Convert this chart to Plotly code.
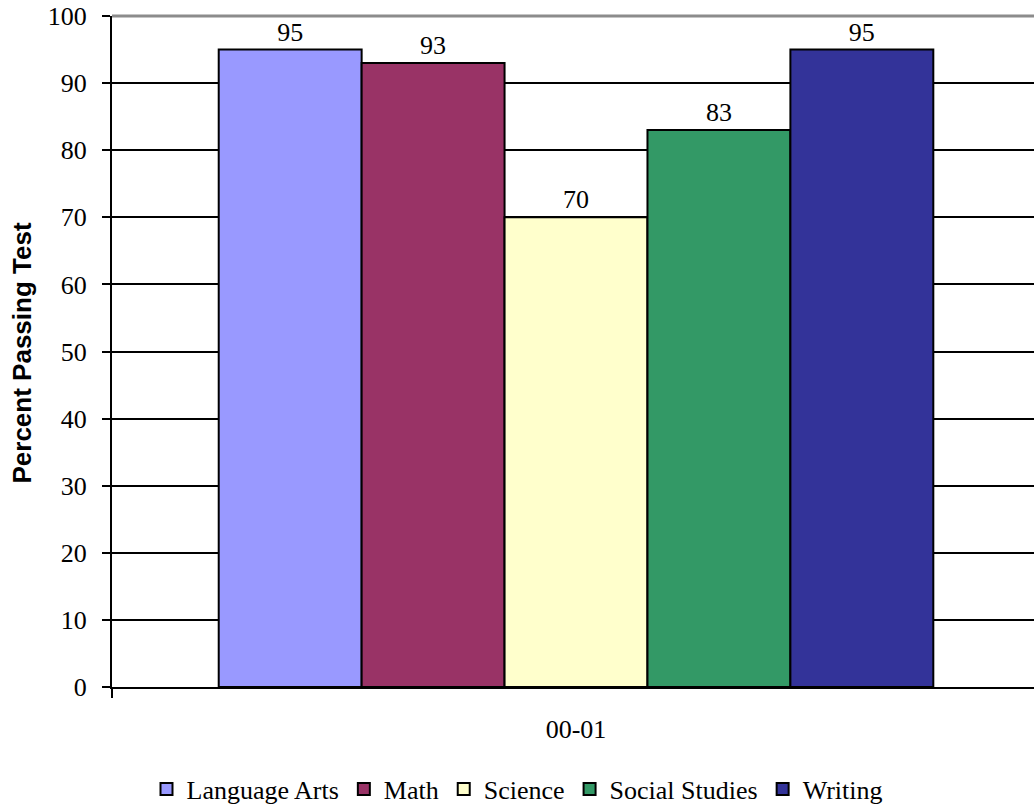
import plotly.graph_objects as go

categories = ["00-01"]
subjects = ["Language Arts", "Math", "Science", "Social Studies", "Writing"]
values = [95, 93, 70, 83, 95]
colors = ["#9999FF", "#993366", "#FFFFCC", "#339966", "#333399"]
y_ticks = [0, 10, 20, 30, 40, 50, 60, 70, 80, 90, 100]

SERIF = "Times New Roman"

fig = go.Figure()
for name, val, col in zip(subjects, values, colors):
    fig.add_trace(go.Bar(
        name=name, x=categories, y=[val],
        marker=dict(color=col, line=dict(color="black", width=2)),
        text=[val], texttemplate="%{y}", textposition="outside",
        textfont=dict(family=SERIF, size=26, color="black"),
        cliponaxis=False, constraintext="none",
    ))

fig.update_layout(
    width=1034, height=807,
    margin=dict(l=112, r=0, t=16, b=120),
    paper_bgcolor="white", plot_bgcolor="white",
    barmode="group", bargap=0.23, bargroupgap=0,
    font=dict(family=SERIF, size=26, color="black"),
    showlegend=True,
    legend=dict(orientation="h", xref="container", yref="container",
                x=0.5, xanchor="center", y=0.0223, yanchor="middle",
                font=dict(family=SERIF, size=26, color="black"),
                itemwidth=30, traceorder="normal"),
    xaxis=dict(type="category", range=[-0.5, 0.4935],
               showline=True, linecolor="black", linewidth=2,
               ticks="outside", tickson="boundaries", ticklen=9,
               tickcolor="black", tickwidth=2, showgrid=False,
               ticklabelstandoff=18,
               tickfont=dict(family=SERIF, size=26, color="black")),
    yaxis=dict(range=[0, 100], tickvals=y_ticks, showgrid=True,
               gridcolor="black", gridwidth=2, zeroline=False,
               showline=True, linecolor="black", linewidth=2,
               ticks="outside", ticklen=8, tickcolor="black", tickwidth=2,
               ticklabelstandoff=10, ticklabeloverflow="allow",
               tickfont=dict(family=SERIF, size=26, color="black")),
    shapes=[dict(type="line", xref="paper", yref="paper", x0=0, x1=1, y0=1, y1=1,
                 line=dict(color="#8c8c8c", width=3), layer="above")],
    annotations=[dict(text="<b>Percent Passing Test</b>", xref="paper", yref="paper",
                      x=-0.0976, y=0.497, xanchor="center", yanchor="middle",
                      textangle=-90, showarrow=False,
                      font=dict(family="Arial", size=26, color="black"))],
)

fig.write_html(
    "out.html",
    config={"displayModeBar": False},
    post_script="document.body.style.margin='0';document.body.style.overflow='hidden';",
)
